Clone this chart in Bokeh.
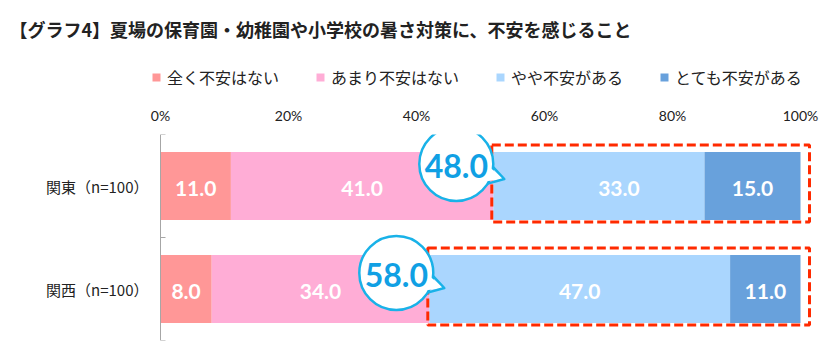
import math
from bokeh.plotting import figure
from bokeh.layouts import column
from bokeh.models import (ColumnDataSource, Range1d, FixedTicker, Legend, LegendItem, Title,
                          LinearAxis)
from bokeh.core.properties import value
from bokeh.embed import file_html
from bokeh.resources import INLINE

# ---------------- data ----------------
title_text = "【グラフ4】夏場の保育園・幼稚園や小学校の暑さ対策に、不安を感じること"
categories = ["関東（n=100）", "関西（n=100）"]
series_names = ["全く不安はない", "あまり不安はない", "やや不安がある", "とても不安がある"]
not_at_all = [11.0, 8.0]
not_much = [41.0, 34.0]
somewhat = [33.0, 47.0]
very = [15.0, 11.0]
x_ticks = [0, 20, 40, 60, 80, 100]
x_tick_labels = ["0%", "20%", "40%", "60%", "80%", "100%"]

# ---------------- style / layout ----------------
colors = ["#FF9797", "#FFADD6", "#AAD6FE", "#68A1DC"]
CJK = "Noto Sans CJK JP"
NUM = "Lato"
TXT = "#222222"
GRID = "#A6A6A6"
W = 824
HEAD_H, HEAD_AXIS = 134, 34
MAIN_H = 216
BL, BR, BB = 150, 11, 10          # frame borders of the plots
ZERO_PX, FULL_PX = 160, 640       # where 0% sits and how wide 0..100% is
n = len(categories)
PX_X = FULL_PX / 100
frame_w = W - BL - BR
frame_h = MAIN_H - BB
PX_Y = frame_h / n
x_start = -(ZERO_PX - BL) / PX_X
x_end = x_start + frame_w / PX_X

shared_x = Range1d(x_start, x_end)

# ================= header figure: title, legend, percent axis =================
head = figure(width=W, height=HEAD_H, x_range=shared_x, y_range=Range1d(0, 1),
              x_axis_location="below", y_axis_type=None,
              toolbar_location=None, output_backend="svg", title=None,
              min_border_left=BL, min_border_right=BR, min_border_top=0,
              min_border_bottom=HEAD_AXIS)
head.outline_line_color = None
head.grid.visible = False

ha = head.xaxis[0]
ha.ticker = FixedTicker(ticks=x_ticks)
ha.major_label_overrides = {t: l for t, l in zip(x_ticks, x_tick_labels)}
ha.axis_line_color = None
ha.major_tick_line_color = None
ha.minor_tick_line_color = None
ha.major_tick_out = 0
ha.major_tick_in = 0
ha.major_label_standoff = 6
ha.major_label_text_font = NUM
ha.major_label_text_font_size = "14px"
ha.major_label_text_color = TXT

head.add_layout(Title(text=title_text, align="left", offset=9 - BL, standoff=10,
                      padding=dict(left=0, right=0, top=8, bottom=0),
                      text_font=CJK, text_font_style="bold", text_font_size="18px",
                      text_color=TXT), "above")

# ================= main figure: stacked bars =================
p = figure(width=W, height=MAIN_H, x_range=shared_x, y_range=Range1d(0, n),
           toolbar_location=None, output_backend="svg", x_axis_type=None,
           min_border_left=BL, min_border_right=BR, min_border_top=0, min_border_bottom=BB)
p.outline_line_color = None
p.xgrid.ticker = FixedTicker(ticks=x_ticks)
p.xgrid.grid_line_color = GRID
p.ygrid.visible = False

series = [not_at_all, not_much, somewhat, very]
ys = [n - i - 0.5 for i in range(n)]
lefts = [0.0] * n
sources = []
lab_x, lab_y, lab_t, lab_dx = [], [], [], []
label_nudge_px = {(0, 2): 20}
for k, vals in enumerate(series):
    rights = [l + v for l, v in zip(lefts, vals)]
    src = ColumnDataSource(dict(y=ys, left=lefts, right=rights))
    sources.append(src)
    p.hbar(y="y", left="left", right="right", height=0.66, source=src,
           fill_color=colors[k], line_color=None)
    for i in range(n):
        lab_x.append((lefts[i] + rights[i]) / 2)
        lab_y.append(ys[i])
        lab_t.append(f"{vals[i]:.1f}")
        lab_dx.append(label_nudge_px.get((i, k), 0))
    lefts = rights

lab_src = ColumnDataSource(dict(x=lab_x, y=lab_y, t=lab_t, dx=lab_dx))
p.text(x="x", y="y", text="t", x_offset="dx", y_offset=2, source=lab_src,
       text_font=value(NUM), text_font_style="bold", text_font_size="21px",
       text_color="white", text_align="center", text_baseline="middle")

# legend in the header (hidden twins of the bar renderers supply the swatches)
proxies = [head.hbar(y="y", left="left", right="right", height=0.66, source=src,
                     fill_color=c, line_color=None, visible=False)
           for src, c in zip(sources, colors)]
legend = Legend(items=[LegendItem(label=name, renderers=[r])
                       for name, r in zip(series_names, proxies)],
                orientation="horizontal", location=(151 - BL, 11),
                glyph_width=10, glyph_height=10, label_standoff=6, spacing=36,
                padding=0, margin=0, border_line_color=None, background_fill_alpha=0,
                label_text_font=CJK, label_text_font_size="16px",
                label_text_color=TXT)
head.add_layout(legend)

# dashed highlight boxes around the anxious share
anchors = [a + b for a, b in zip(not_at_all, not_much)]
bubble_vals = [a + b for a, b in zip(somewhat, very)]
box_src = ColumnDataSource(dict(
    left=[a - 1.5 / PX_X for a in anchors],
    right=[x_ticks[-1] + 9 / PX_X] * n,
    top=[y + 41 / PX_Y for y in ys],
    bottom=[y - 36 / PX_Y for y in ys]))
p.quad(left="left", right="right", top="top", bottom="bottom", source=box_src,
       fill_color=None, line_color="#FF2A00", line_width=3, line_dash="9 4")

# speech bubbles
R = 37
bubble_dx_px = [-37, -33]
bubble_dy_px = [22, 16]
bx = [a + dx / PX_X for a, dx in zip(anchors, bubble_dx_px)]
by = [y + dy / PX_Y for y, dy in zip(ys, bubble_dy_px)]
tip = (48, 15)
a1, a2 = math.radians(5), math.radians(32)
pxs, pys, lxs, lys = [], [], [], []
for cx, cy in zip(bx, by):
    def pt(dxp, dyp):
        return cx + dxp / PX_X, cy - dyp / PX_Y
    r_in = R - 4
    b1 = pt(r_in * math.cos(a1), r_in * math.sin(a1))
    b2 = pt(r_in * math.cos(a2), r_in * math.sin(a2))
    t = pt(*tip)
    pxs.append([b1[0], t[0], b2[0]])
    pys.append([b1[1], t[1], b2[1]])
    e1 = pt(R * math.cos(a1), R * math.sin(a1))
    e2 = pt(R * math.cos(a2), R * math.sin(a2))
    lxs.append([e1[0], t[0], e2[0]])
    lys.append([e1[1], t[1], e2[1]])

bub_color = "#19B2E8"
p.scatter(x=bx, y=by, size=2 * R, marker="circle", fill_color="white",
          line_color=bub_color, line_width=2.5)
p.patches(xs=pxs, ys=pys, fill_color="white", line_color=None)
p.multi_line(xs=lxs, ys=lys, line_color=bub_color, line_width=2.5, line_join="round")
p.text(x=bx, y=by, text=[f"{v:.1f}" for v in bubble_vals], y_offset=2,
       text_font=value(NUM), text_font_style="bold", text_font_size="32px",
       text_color="#10A0E4", text_align="center", text_baseline="middle")

# category labels (axis next to the frame)
ya = p.yaxis[0]
ya.ticker = FixedTicker(ticks=ys)
ya.major_label_overrides = {y: c for y, c in zip(ys, categories)}
ya.axis_line_color = None
ya.major_tick_line_color = None
ya.minor_tick_line_color = None
ya.major_tick_out = 0
ya.major_tick_in = 0
ya.major_label_standoff = 2
ya.major_label_text_font = CJK
ya.major_label_text_font_size = "15px"
ya.major_label_text_color = TXT

# axis line with category separators, drawn at the 0% line
sep_axis = LinearAxis(fixed_location=0,
                      ticker=FixedTicker(ticks=[], minor_ticks=list(range(n + 1))),
                      axis_line_color=GRID, major_tick_line_color=None,
                      minor_tick_line_color=GRID, minor_tick_in=5, minor_tick_out=0,
                      major_tick_out=0, major_label_text_font_size="0px")
p.add_layout(sep_axis, "left")

layout = column(head, p, spacing=0)
open("out.html", "w").write(file_html(layout, INLINE))
